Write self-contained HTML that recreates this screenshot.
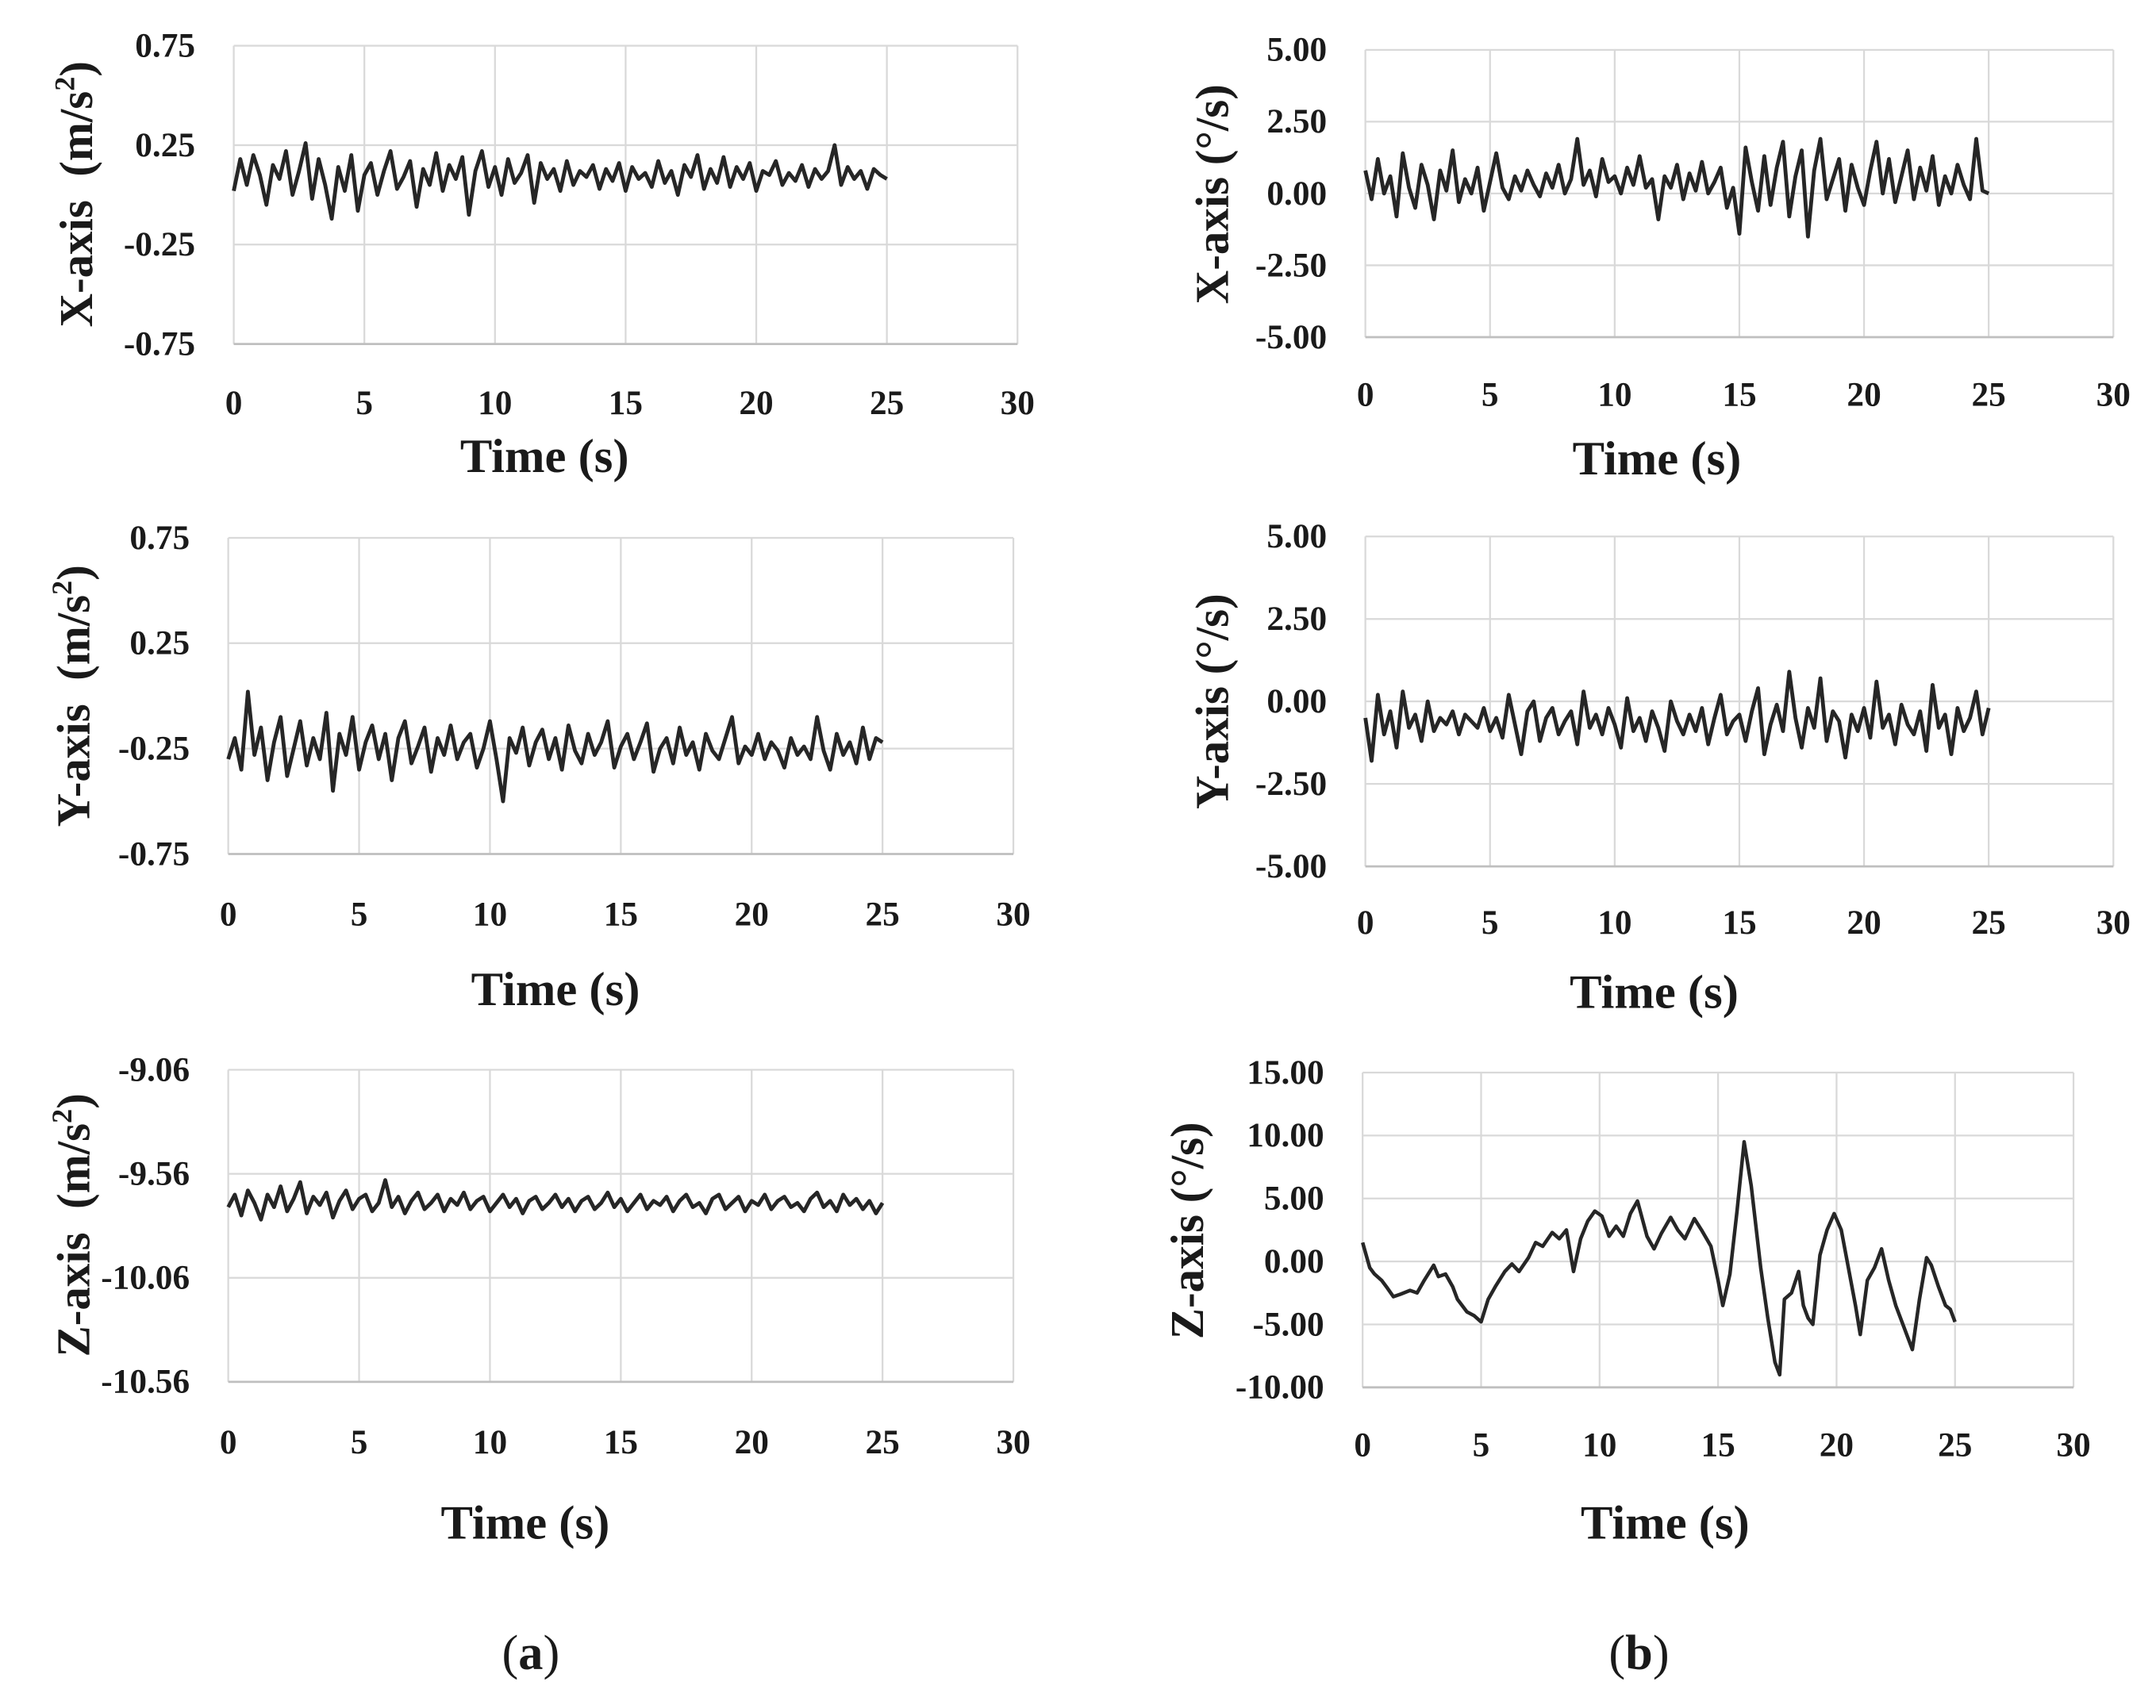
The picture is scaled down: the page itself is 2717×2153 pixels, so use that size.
<!DOCTYPE html>
<html><head><meta charset="utf-8"><style>
html,body{margin:0;padding:0;background:#fff;}
svg{display:block;}
text{font-family:"Liberation Serif",serif;fill:#1a1a1a;}
</style></head><body>
<svg id="fig" width="2717" height="2153" viewBox="0 0 1568 1242" xmlns="http://www.w3.org/2000/svg">
<text x="386" y="1214" font-size="36" text-anchor="middle">(<tspan font-weight="bold">a</tspan>)</text>
<text x="1192" y="1214" font-size="36" text-anchor="middle">(<tspan font-weight="bold">b</tspan>)</text>
</svg>
<script>
const xTicks=[0,5,10,15,20,25,30];
const accXTicks=[0.75,0.25,-0.25,-0.75];
const accYTicks=[0.75,0.25,-0.25,-0.75];
const accZTicks=[-9.06,-9.56,-10.06,-10.56];
const gyrXTicks=[5,2.5,0,-2.5,-5];
const gyrYTicks=[5,2.5,0,-2.5,-5];
const gyrZTicks=[15,10,5,0,-5,-10];
const accX=[0.02,0.18,0.05,0.20,0.10,-0.05,0.15,0.08,0.22,0.00,0.12,0.26,-0.02,0.18,0.05,-0.12,0.14,0.02,0.20,-0.08,0.10,0.16,0.00,0.12,0.22,0.03,0.09,0.17,-0.06,0.13,0.05,0.21,0.02,0.15,0.08,0.19,-0.10,0.12,0.22,0.04,0.14,0.00,0.18,0.06,0.11,0.20,-0.04,0.16,0.08,0.13,0.02,0.17,0.05,0.12,0.09,0.15,0.03,0.13,0.07,0.16,0.02,0.14,0.08,0.11,0.04,0.17,0.06,0.12,0.00,0.15,0.09,0.20,0.03,0.13,0.06,0.19,0.04,0.14,0.08,0.16,0.02,0.12,0.10,0.17,0.05,0.11,0.07,0.15,0.04,0.13,0.08,0.12,0.25,0.05,0.14,0.08,0.12,0.03,0.13,0.10,0.08];
const accY=[-0.30,-0.20,-0.35,0.02,-0.28,-0.15,-0.40,-0.22,-0.10,-0.38,-0.25,-0.12,-0.33,-0.20,-0.30,-0.08,-0.45,-0.18,-0.28,-0.10,-0.35,-0.22,-0.14,-0.30,-0.18,-0.40,-0.20,-0.12,-0.32,-0.24,-0.15,-0.36,-0.20,-0.28,-0.14,-0.30,-0.22,-0.18,-0.34,-0.25,-0.12,-0.30,-0.50,-0.20,-0.27,-0.15,-0.33,-0.22,-0.16,-0.30,-0.20,-0.35,-0.14,-0.26,-0.32,-0.18,-0.28,-0.22,-0.12,-0.34,-0.24,-0.18,-0.30,-0.22,-0.13,-0.36,-0.25,-0.20,-0.32,-0.15,-0.28,-0.22,-0.35,-0.18,-0.26,-0.30,-0.20,-0.10,-0.32,-0.24,-0.28,-0.18,-0.30,-0.22,-0.26,-0.34,-0.20,-0.28,-0.24,-0.30,-0.10,-0.26,-0.35,-0.18,-0.28,-0.22,-0.32,-0.15,-0.30,-0.20,-0.22];
const accZ=[-9.72,-9.66,-9.76,-9.64,-9.70,-9.78,-9.66,-9.72,-9.62,-9.74,-9.68,-9.60,-9.75,-9.67,-9.71,-9.65,-9.77,-9.69,-9.64,-9.73,-9.68,-9.66,-9.74,-9.70,-9.59,-9.72,-9.67,-9.75,-9.69,-9.65,-9.73,-9.70,-9.66,-9.74,-9.68,-9.71,-9.65,-9.73,-9.69,-9.67,-9.74,-9.70,-9.66,-9.72,-9.68,-9.75,-9.69,-9.67,-9.73,-9.70,-9.66,-9.72,-9.68,-9.74,-9.69,-9.67,-9.73,-9.70,-9.65,-9.72,-9.68,-9.74,-9.70,-9.66,-9.73,-9.69,-9.71,-9.67,-9.74,-9.69,-9.66,-9.72,-9.70,-9.75,-9.68,-9.66,-9.73,-9.70,-9.67,-9.74,-9.69,-9.71,-9.66,-9.73,-9.69,-9.67,-9.72,-9.70,-9.74,-9.68,-9.65,-9.72,-9.69,-9.74,-9.66,-9.71,-9.68,-9.73,-9.69,-9.75,-9.70];
const gyrX=[0.8,-0.2,1.2,0.0,0.6,-0.8,1.4,0.2,-0.5,1.0,0.3,-0.9,0.8,0.1,1.5,-0.3,0.5,0.0,0.9,-0.6,0.4,1.4,0.2,-0.2,0.6,0.1,0.8,0.3,-0.1,0.7,0.2,1.0,0.0,0.5,1.9,0.3,0.8,-0.1,1.2,0.4,0.6,0.0,0.9,0.3,1.3,0.2,0.5,-0.9,0.6,0.2,1.0,-0.2,0.7,0.1,1.1,0.0,0.4,0.9,-0.5,0.2,-1.4,1.6,0.4,-0.6,1.3,-0.4,0.9,1.8,-0.8,0.6,1.5,-1.5,0.8,1.9,-0.2,0.5,1.2,-0.6,1.0,0.2,-0.4,0.8,1.8,0.0,1.2,-0.3,0.6,1.5,-0.2,0.9,0.1,1.3,-0.4,0.6,0.0,1.0,0.3,-0.2,1.9,0.1,0.0];
const gyrY=[-0.5,-1.8,0.2,-1.0,-0.3,-1.4,0.3,-0.8,-0.4,-1.2,0.0,-0.9,-0.5,-0.7,-0.3,-1.0,-0.4,-0.6,-0.8,-0.2,-0.9,-0.5,-1.1,0.2,-0.7,-1.6,-0.3,0.0,-1.2,-0.5,-0.2,-1.0,-0.6,-0.3,-1.3,0.3,-0.8,-0.4,-1.0,-0.2,-0.7,-1.4,0.1,-0.9,-0.5,-1.2,-0.3,-0.8,-1.5,0.0,-0.6,-1.0,-0.4,-0.9,-0.2,-1.3,-0.5,0.2,-1.0,-0.6,-0.4,-1.2,-0.3,0.4,-1.6,-0.7,-0.1,-0.9,0.9,-0.5,-1.4,-0.2,-0.8,0.7,-1.2,-0.3,-0.6,-1.7,-0.4,-0.9,-0.2,-1.1,0.6,-0.8,-0.4,-1.3,-0.1,-0.7,-1.0,-0.3,-1.5,0.5,-0.8,-0.4,-1.6,-0.2,-0.9,-0.5,0.3,-1.0,-0.2];
const gyrZt=[0,0.3,0.5,0.8,1.0,1.3,1.6,2.0,2.3,2.6,3.0,3.2,3.5,3.8,4.0,4.4,4.7,5.0,5.3,5.6,6.0,6.3,6.6,7.0,7.3,7.6,8.0,8.3,8.6,8.9,9.2,9.5,9.8,10.1,10.4,10.7,11.0,11.3,11.6,12.0,12.3,12.6,13.0,13.3,13.6,14.0,14.3,14.7,15.0,15.2,15.5,15.8,16.1,16.4,16.8,17.1,17.4,17.6,17.8,18.1,18.4,18.6,18.8,19.0,19.3,19.6,19.9,20.2,20.5,20.8,21.0,21.3,21.6,21.9,22.2,22.5,22.8,23.0,23.2,23.5,23.8,24.0,24.3,24.6,24.8,25.0];
const gyrZv=[1.5,-0.5,-1.0,-1.5,-2.0,-2.8,-2.6,-2.3,-2.5,-1.5,-0.3,-1.2,-1.0,-2.0,-3.0,-4.0,-4.3,-4.8,-3.0,-2.0,-0.8,-0.2,-0.8,0.3,1.5,1.2,2.3,1.8,2.5,-0.8,1.8,3.2,4.0,3.6,2.0,2.8,2.0,3.8,4.8,2.0,1.0,2.2,3.5,2.5,1.8,3.4,2.5,1.2,-1.5,-3.5,-1.0,4.0,9.5,6.0,-0.5,-4.5,-8.0,-9.0,-3.0,-2.5,-0.8,-3.5,-4.5,-5.0,0.5,2.5,3.8,2.5,-0.5,-3.5,-5.8,-1.5,-0.5,1.0,-1.5,-3.5,-5.0,-6.0,-7.0,-3.0,0.3,-0.3,-2.0,-3.5,-3.8,-4.8];

const svg=document.getElementById('fig');
const NS='http://www.w3.org/2000/svg';
function mk(tag,attrs){const e=document.createElementNS(NS,tag);for(const k in attrs)e.setAttribute(k,attrs[k]);svg.appendChild(e);return e;}

function panel(id,x0,x1,yTop,yBot,ticks,dec,tickY,timeX,timeY,titleX,titleY,titleText,times,vals){
  const vmax=ticks[0],vmin=ticks[ticks.length-1];
  const sx=t=>x0+(t-0)/(30-0)*(x1-x0);
  const sy=v=>yTop+(vmax-v)/(vmax-vmin)*(yBot-yTop);
  const g=mk('g',{});
  
  
  ticks.forEach(v=>{
    const y=sy(v);
    const l=mk('line',{x1:x0,x2:x1,y1:y,y2:y,stroke:'#d9d9d9','stroke-width':1.3});
    
    
    const t=mk('text',{x:x0-28,y:y+8,'font-size':25,'font-weight':'bold','text-anchor':'end'});
    t.textContent=v.toFixed(dec);
    
    
  });
  xTicks.forEach(v=>{
    const x=sx(v);
    const l=mk('line',{x1:x,x2:x,y1:yTop,y2:yBot,stroke:'#d9d9d9','stroke-width':1.3});
    
    
    const t=mk('text',{x:x,y:tickY,'font-size':25,'font-weight':'bold','text-anchor':'middle'});
    t.textContent=v;
    
    
  });
  const ax=mk('line',{x1:x0,x2:x1,y1:yBot,y2:yBot,stroke:'#bfbfbf','stroke-width':1.6});
  
  
  let d='';
  vals.forEach((v,i)=>{
    const t=times?times[i]:i*25/(vals.length-1);
    d+=(i?'L':'M')+sx(t).toFixed(2)+','+sy(v).toFixed(2);
  });
  const p=mk('path',{d:d,fill:'none',stroke:'#262626','stroke-width':times?2.6:2.8,'stroke-linejoin':'round'});
  
  
  const tt=mk('text',{x:timeX,y:timeY,'font-size':35,'font-weight':'bold','text-anchor':'middle'});
  tt.textContent='Time (s)';
  
  
  const yt=mk('text',{x:0,y:0,'font-size':34,'font-weight':'bold','text-anchor':'middle',transform:'translate('+titleX+','+titleY+') rotate(-90)'});
  yt.innerHTML=titleText;
  
  
}
const accT='<tspan xml:space="preserve">X-axis  (m/s</tspan><tspan font-size="21" dy="-13">2</tspan><tspan dy="13">)</tspan>';
panel('acc-x',170,740,33,250,accXTicks,2,301,396,343,67,141,accT,null,accX);
panel('acc-y',166,737,391,621,accYTicks,2,673,404,731,65,506,accT.replace('X-axis','Y-axis'),null,accY);
panel('acc-z',166,737,778,1005,accZTicks,2,1057,382,1119,65,891,accT.replace('X-axis','Z-axis'),null,accZ);
panel('gyro-x',993,1537,36,245,gyrXTicks,2,295,1205,345,893,141,'X-axis (°/s)',null,gyrX);
panel('gyro-y',993,1537,390,630,gyrYTicks,2,679,1203,733,893,510,'Y-axis (°/s)',null,gyrY);
panel('gyro-z',991,1508,780,1009,gyrZTicks,2,1059,1211,1119,875,895,'Z-axis (°/s)',gyrZt,gyrZv);
</script>
</body></html>
